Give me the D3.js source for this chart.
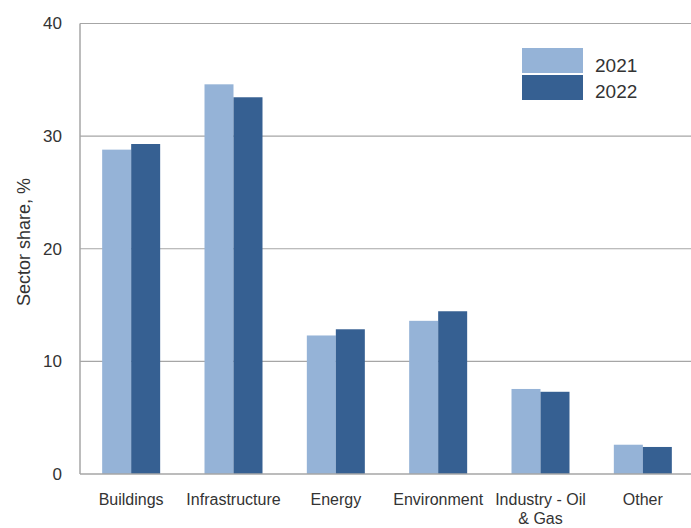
<!DOCTYPE html>
<html>
<head>
<meta charset="utf-8">
<script src="https://cdn.jsdelivr.net/npm/d3@7"></script>
<style>
  body { margin: 0; background: #fff; }
  text { font-family: "Liberation Sans", Arial, sans-serif; fill: #333; }
</style>
</head>
<body>
<div id="chart"></div>
<script>
// data
const categories = ['Buildings', 'Infrastructure', 'Energy', 'Environment', 'Industry - Oil|& Gas', 'Other'];
const series = ['2021', '2022'];
const values2021 = [28.8, 34.6, 12.3, 13.6, 7.55, 2.6];
const values2022 = [29.3, 33.45, 12.85, 14.45, 7.3, 2.4];
const yTicks = [0, 10, 20, 30, 40];
const colors = ['#95b3d7', '#366092'];

const width = 691, height = 528;
const plotLeft = 80, plotRight = 694, plotTop = 23.5, plotBottom = 474;

let svg = d3.select('#chart')
    .append('svg')
    .attr('width', width)
    .attr('height', height);

const x = d3.scaleBand().domain(categories).range([plotLeft, plotRight]);
const x1 = d3.scaleBand().domain(series).range([0, 58]);
const y = d3.scaleLinear().domain([0, 40]).range([plotBottom, plotTop]);

// gridlines
svg.append('g')
    .selectAll('line')
    .data(yTicks.filter(d => d > 0))
    .join('line')
    .attr('x1', plotLeft).attr('x2', plotRight)
    .attr('y1', d => y(d)).attr('y2', d => y(d))
    .attr('stroke', '#a6a6a6').attr('stroke-width', 1.2);

// bars
const rows = categories.map((c, i) => ({ cat: c, vals: [values2021[i], values2022[i]] }));
const groups = svg.append('g')
    .selectAll('g')
    .data(rows)
    .join('g')
    .attr('transform', d => `translate(${x(d.cat) + (x.bandwidth() - 58) / 2},0)`);

groups.selectAll('rect')
    .data(d => d.vals.map((v, j) => ({ key: series[j], v: v, j: j })))
    .join('rect')
    .attr('x', d => x1(d.key))
    .attr('width', x1.bandwidth())
    .attr('y', d => y(d.v))
    .attr('height', d => y(0) - y(d.v))
    .attr('fill', d => colors[d.j]);

// axes lines
svg.append('line')
    .attr('x1', plotLeft).attr('x2', plotLeft).attr('y1', plotTop).attr('y2', plotBottom)
    .attr('stroke', '#a6a6a6').attr('stroke-width', 1.5);
svg.append('line')
    .attr('x1', plotLeft).attr('x2', plotRight).attr('y1', plotBottom).attr('y2', plotBottom)
    .attr('stroke', '#a6a6a6').attr('stroke-width', 1.5);

// y axis labels
const yAxis = d3.axisLeft(y).tickValues(yTicks).tickSize(0).tickPadding(18);
const gy = svg.append('g').attr('transform', `translate(${plotLeft},0)`).call(yAxis);
gy.select('.domain').remove();
gy.attr('font-family', null).attr('font-size', null);
gy.selectAll('text').style('font-size', '17px').style('fill', '#333');

// x axis labels
const xl = svg.append('g').selectAll('text')
    .data(categories)
    .join('text')
    .attr('x', d => x(d) + x.bandwidth() / 2)
    .attr('y', 505)
    .attr('text-anchor', 'middle')
    .style('font-size', '16px');
xl.each(function (d) {
    const parts = d.split('|');
    const t = d3.select(this);
    parts.forEach((p, k) => {
        t.append('tspan')
            .attr('x', x(d) + x.bandwidth() / 2)
            .attr('dy', k === 0 ? 0 : 19)
            .text(p);
    });
});

// y title
svg.append('text')
    .attr('transform', 'translate(30,242) rotate(-90)')
    .attr('text-anchor', 'middle')
    .style('font-size', '18px')
    .text('Sector share, %');

// legend
const legend = svg.append('g');
series.forEach((s, i) => {
    legend.append('rect')
        .attr('x', 522).attr('y', 48 + i * 27)
        .attr('width', 61).attr('height', 25)
        .attr('fill', colors[i]);
    legend.append('text')
        .attr('x', 595).attr('y', 72 + i * 26)
        .style('font-size', '19px')
        .text(s);
});
</script>
</body>
</html>
